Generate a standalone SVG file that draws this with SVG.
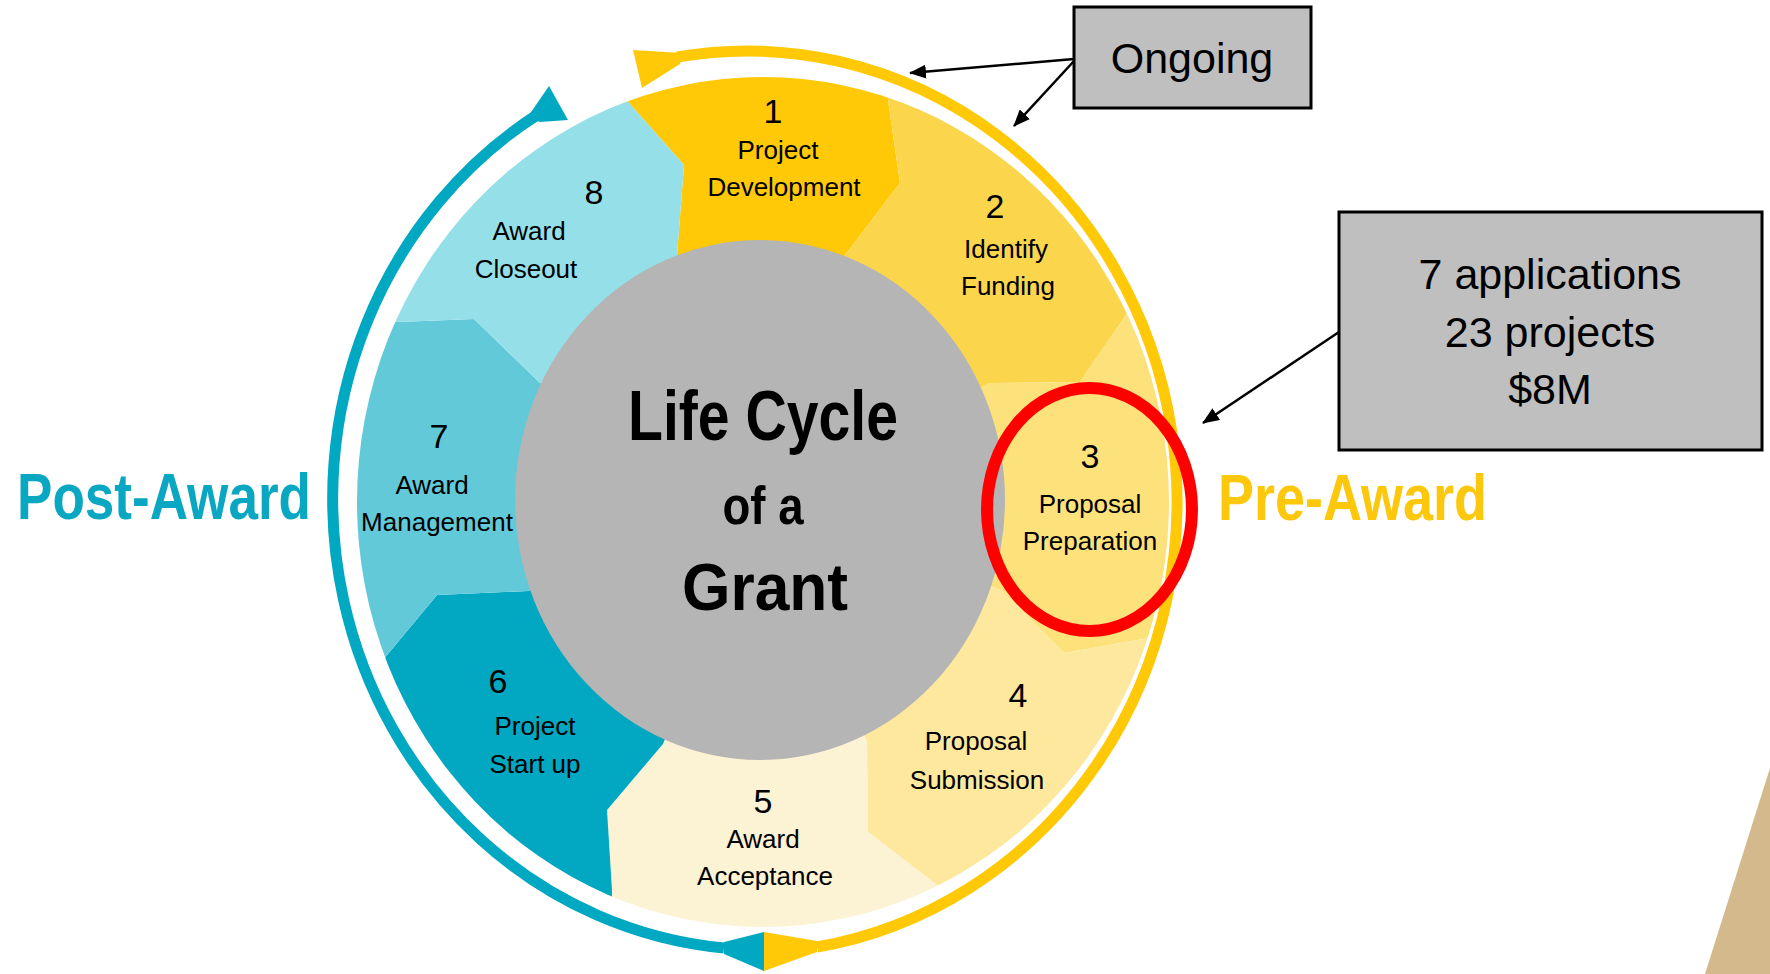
<svg xmlns="http://www.w3.org/2000/svg" width="1770" height="974" viewBox="0 0 1770 974">
<style>
.lbl{font-family:"Liberation Sans",Arial,sans-serif;font-size:26px;fill:#000;text-anchor:middle}
.num{font-family:"Liberation Sans",Arial,sans-serif;font-size:34px;fill:#000;text-anchor:middle}
.title{font-family:"Liberation Sans",Arial,sans-serif;font-weight:bold;fill:#000;text-anchor:middle}
.phase{font-family:"Liberation Sans",Arial,sans-serif;font-weight:bold;font-size:64px}
.box{fill:#bfbfbf;stroke:#000;stroke-width:3}
.boxtxt{font-family:"Liberation Sans",Arial,sans-serif;font-size:43px;fill:#000;text-anchor:middle}
.conn{stroke:#000;stroke-width:2.5;fill:none}
</style>
<defs>
<clipPath id="ring"><ellipse cx="763" cy="502" rx="406" ry="425"/></clipPath>
<marker id="ah" markerUnits="userSpaceOnUse" markerWidth="18" markerHeight="14" refX="16" refY="7" orient="auto"><path d="M0,0 L17,7 L0,14 Z" fill="#000"/></marker>
</defs>
<rect width="1770" height="974" fill="#fff"/>
<polygon points="1770,768 1705,974 1770,974" fill="#d4b98c"/>

<g id="cycle-arcs">
<path d="M677,57 A430,451 0 1 1 817,947" fill="none" stroke="#ffc907" stroke-width="11"/>
<polygon points="633,50 682,53 680,64 642,88" fill="#ffc907"/>
<polygon points="764,932 764,971 817,952 817,941" fill="#ffc907"/>
<path d="M724,948 A430,451 0 0 1 540,113" fill="none" stroke="#00a8c1" stroke-width="11"/>
<polygon points="549,86 568,120 540,122 527,118" fill="#00a8c1"/>
<polygon points="764,932 764,971 724,954 724,942" fill="#00a8c1"/>
</g>

<g clip-path="url(#ring)">
<g id="seg1"><polygon points="760,500 677,255 684,165 629,103 600,70 740,-50 885,60 888,100 900,183 845,255" fill="#ffc907"/></g>
<g id="seg2"><polygon points="760,500 845,255 900,183 888,100 885,60 1100,50 1160,265 1128,312 1080,382 990,383" fill="#fbd64d"/></g>
<g id="seg3"><polygon points="760,500 990,383 1080,382 1128,312 1160,265 1300,400 1200,630 1149,638 1064,653 1001,590" fill="#fde17a"/></g>
<g id="seg4"><polygon points="760,500 1001,590 1064,653 1149,638 1200,630 1150,900 970,910 937,885 868,832 867,742" fill="#fde89e"/></g>
<g id="seg5"><polygon points="760,500 867,742 868,832 937,885 970,910 780,1000 612,950 612,890 607,810 663,744" fill="#fcf2d4"/></g>
<g id="seg6"><polygon points="760,500 663,744 607,810 612,890 612,950 350,900 350,700 388,654 437,595 528,591" fill="#02a8c1"/></g>
<g id="seg7"><polygon points="760,500 528,591 437,595 388,654 350,700 250,500 340,320 398,322 474,319 539,382" fill="#62c9d9"/></g>
<g id="seg8"><polygon points="760,500 539,382 474,319 398,322 340,320 400,100 600,70 629,103 684,165 677,255" fill="#95dfe8"/></g>
</g>

<g id="center">
<ellipse cx="760" cy="500" rx="245" ry="260" fill="#b5b5b5"/>
<text class="title" x="763" y="440" font-size="70" textLength="270" lengthAdjust="spacingAndGlyphs">Life Cycle</text>
<text class="title" x="763" y="524" font-size="54" textLength="81" lengthAdjust="spacingAndGlyphs">of a</text>
<text class="title" x="765" y="610" font-size="66" textLength="166" lengthAdjust="spacingAndGlyphs">Grant</text>
</g>

<g id="labels">
<g id="label1"><text class="num" x="773" y="123">1</text><text class="lbl" x="778" y="159">Project</text><text class="lbl" x="784" y="196">Development</text></g>
<g id="label2"><text class="num" x="995" y="218">2</text><text class="lbl" x="1006" y="258">Identify</text><text class="lbl" x="1008" y="295">Funding</text></g>
<g id="label3"><text class="num" x="1090" y="468">3</text><text class="lbl" x="1090" y="513">Proposal</text><text class="lbl" x="1090" y="550">Preparation</text></g>
<g id="label4"><text class="num" x="1018" y="707">4</text><text class="lbl" x="976" y="750">Proposal</text><text class="lbl" x="977" y="789">Submission</text></g>
<g id="label5"><text class="num" x="763" y="813">5</text><text class="lbl" x="763" y="848">Award</text><text class="lbl" x="765" y="885">Acceptance</text></g>
<g id="label6"><text class="num" x="498" y="693">6</text><text class="lbl" x="535" y="735">Project</text><text class="lbl" x="535" y="773">Start up</text></g>
<g id="label7"><text class="num" x="439" y="448">7</text><text class="lbl" x="432" y="494">Award</text><text class="lbl" x="437" y="531">Management</text></g>
<g id="label8"><text class="num" x="594" y="204">8</text><text class="lbl" x="529" y="240">Award</text><text class="lbl" x="526" y="278">Closeout</text></g>
</g>

<g id="highlight"><ellipse cx="1089.5" cy="509.5" rx="102.5" ry="121.5" fill="none" stroke="#ff0000" stroke-width="12"/></g>

<g id="phases">
<text class="phase" x="17" y="519" fill="#0aa7c2" textLength="294" lengthAdjust="spacingAndGlyphs">Post-Award</text>
<text class="phase" x="1218" y="520" fill="#fdc70c" textLength="269" lengthAdjust="spacingAndGlyphs">Pre-Award</text>
</g>

<g id="ongoing"><rect class="box" x="1074" y="7" width="237" height="101"/><text class="boxtxt" x="1192" y="73" font-size="42">Ongoing</text></g>
<g id="stats"><rect class="box" x="1339" y="212" width="423" height="238"/>
<text class="boxtxt" x="1550" y="289">7 applications</text>
<text class="boxtxt" x="1550" y="347">23 projects</text>
<text class="boxtxt" x="1550" y="404">$8M</text></g>

<g id="connectors">
<line class="conn" x1="1074" y1="59" x2="910" y2="73" marker-end="url(#ah)"/>
<line class="conn" x1="1074" y1="61" x2="1014" y2="126" marker-end="url(#ah)"/>
<line class="conn" x1="1339" y1="332" x2="1203" y2="423" marker-end="url(#ah)"/>
</g>
</svg>
